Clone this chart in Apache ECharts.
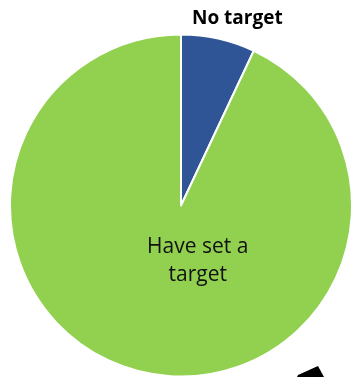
<!DOCTYPE html>
<html>
<head>
<meta charset="utf-8">
<script src="https://cdn.jsdelivr.net/npm/echarts@6/dist/echarts.min.js"></script>
<style>
  html, body { margin: 0; padding: 0; background: #ffffff; }
  #chart { width: 352px; height: 377px; }
</style>
</head>
<body>
<div id="chart"></div>
<script>
// Share of respondents with and without a target (percent)
const categories = ['No target', 'Have set a target'];
const shares = [7, 93];
const sliceColors = ['#2F5597', '#92D050'];

const chart = echarts.init(document.getElementById('chart'), null, { renderer: 'canvas' });

chart.setOption({
  animation: false,
  backgroundColor: '#ffffff',
  series: [{
    type: 'pie',
    center: [181, 205.5],
    radius: 171,
    startAngle: 90,
    clockwise: true,
    avoidLabelOverlap: false,
    itemStyle: { borderColor: '#ffffff', borderWidth: 2 },
    label: {
      show: true,
      position: 'inside',
      formatter: '{b}',
      color: '#111111',
      fontFamily: 'Open Sans',
      fontSize: 21,
      lineHeight: 28
    },
    labelLine: { show: false },
    labelLayout: function (p) {
      return p.dataIndex === 0 ? { dx: 37, dy: -101 } : { dx: 36, dy: -31 };
    },
    emphasis: { disabled: true },
    data: categories.map(function (name, i) {
      const item = { name: name, value: shares[i], itemStyle: { color: sliceColors[i] } };
      if (i === 0) {
        item.label = { fontWeight: 'bold', color: '#000000', fontSize: 19 };
      } else {
        item.label = { formatter: 'Have set a\ntarget' };
      }
      return item;
    })
  }],
  graphic: [{
    type: 'polygon',
    shape: { points: [[297, 377], [298, 375], [318, 366], [324, 377]] },
    style: { fill: '#000000' }
  }]
});
</script>
</body>
</html>
